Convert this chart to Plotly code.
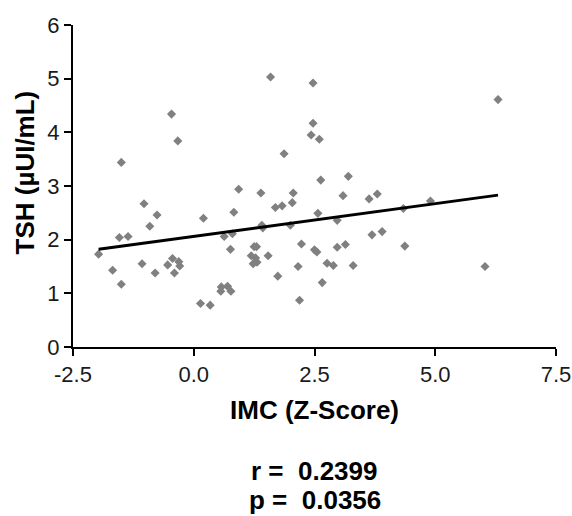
import plotly.graph_objects as go

imc_z = [-1.97, -1.68, -1.50, -1.50, -1.54, -1.36, -1.03, -0.91, -0.76, -1.07,
         -0.80, -0.54, -0.44, -0.40, -0.31, -0.29, -0.46, -0.33, 0.14, 0.34,
         0.20, 0.57, 0.56, 0.70, 0.77, 0.63, 0.80, 0.76, 0.83, 0.93,
         1.19, 1.25, 1.30, 1.28, 1.31, 1.23, 1.39, 1.41, 1.43, 1.54,
         1.59, 1.69, 1.83, 1.74, 1.87, 2.04, 2.06, 2.00, 2.23, 2.16,
         2.19, 2.47, 2.47, 2.43, 2.60, 2.63, 2.57, 2.50, 2.55, 2.66,
         2.97, 3.20, 3.09, 2.97, 3.14, 2.76, 2.89, 3.30, 3.63, 3.80,
         3.69, 3.90, 4.34, 4.37, 4.90, 6.03, 6.30]
tsh = [1.73, 1.43, 1.17, 3.44, 2.04, 2.06, 2.67, 2.25, 2.46, 1.55,
       1.38, 1.53, 1.65, 1.38, 1.59, 1.51, 4.34, 3.84, 0.81, 0.78,
       2.40, 1.12, 1.04, 1.13, 1.04, 2.06, 2.11, 1.82, 2.51, 2.94,
       1.70, 1.87, 1.87, 1.66, 1.58, 1.55, 2.87, 2.27, 2.22, 1.70,
       5.03, 2.60, 2.63, 1.32, 3.60, 2.69, 2.87, 2.27, 1.92, 1.50,
       0.87, 4.92, 4.17, 3.95, 3.87, 3.11, 2.49, 1.81, 1.77, 1.20,
       2.36, 3.18, 2.82, 1.86, 1.91, 1.56, 1.52, 1.52, 2.76, 2.85,
       2.09, 2.15, 2.58, 1.88, 2.72, 1.50, 4.61]

fit_x = [-1.97, 6.30]
fit_y = [1.82, 2.83]

x_ticks = [-2.5, 0.0, 2.5, 5.0, 7.5]
x_tick_labels = ["-2.5", "0.0", "2.5", "5.0", "7.5"]
y_ticks = [0, 1, 2, 3, 4, 5, 6]

stats_lines = ["r =\u00a0\u00a00.2399", "p =\u00a0\u00a00.0356"]

FONT = "Liberation Sans, Arial, sans-serif"
TICK_COLOR = "#1a1a1a"

fig = go.Figure()
fig.add_trace(go.Scatter(
    x=imc_z, y=tsh, mode="markers",
    marker=dict(symbol="diamond", size=7, color="#808080", line=dict(width=0)),
    showlegend=False, cliponaxis=False))
fig.add_trace(go.Scatter(
    x=fit_x, y=fit_y, mode="lines",
    line=dict(color="black", width=3), showlegend=False))

stat_annotations = [
    dict(text="<b>" + s + "</b>", xref="paper", yref="paper", x=0.5, y=0,
         yanchor="middle", yshift=-124 - 29 * i, showarrow=False,
         font=dict(size=26, family=FONT))
    for i, s in enumerate(stats_lines)
]

fig.update_layout(
    width=572, height=516,
    margin=dict(l=73, r=16, t=25, b=169, pad=0, autoexpand=False),
    paper_bgcolor="white", plot_bgcolor="white",
    font=dict(family=FONT, color="black", size=22),
    xaxis=dict(range=[-2.5, 7.5], tickvals=x_ticks, ticktext=x_tick_labels,
               automargin=False,
               showline=True, linecolor="black", linewidth=2,
               ticks="outside", ticklen=7, tickwidth=2, tickcolor="black",
               showgrid=False, zeroline=False,
               tickfont=dict(size=22, family=FONT, color=TICK_COLOR)),
    yaxis=dict(range=[0, 6], tickvals=y_ticks, automargin=False,
               showline=True, linecolor="black", linewidth=2,
               ticks="outside", ticklen=7, tickwidth=2, tickcolor="black",
               showgrid=False, zeroline=False,
               tickfont=dict(size=22, family=FONT, color=TICK_COLOR)),
    annotations=[
        dict(text="<b>IMC (Z-Score)</b>", xref="paper", yref="paper",
             x=0.5, y=0, yanchor="middle", yshift=-63, showarrow=False,
             font=dict(size=26, family=FONT)),
        dict(text="<b>TSH (µUI/mL)</b>", xref="paper", yref="paper",
             x=0, y=0.542, xanchor="center", yanchor="middle", xshift=-48,
             textangle=-90, showarrow=False, font=dict(size=26, family=FONT)),
    ] + stat_annotations)

fig.write_html(
    "out.html",
    config={"responsive": False, "displayModeBar": False},
    post_script="document.body.style.margin='0';document.body.style.overflow='hidden';",
)
